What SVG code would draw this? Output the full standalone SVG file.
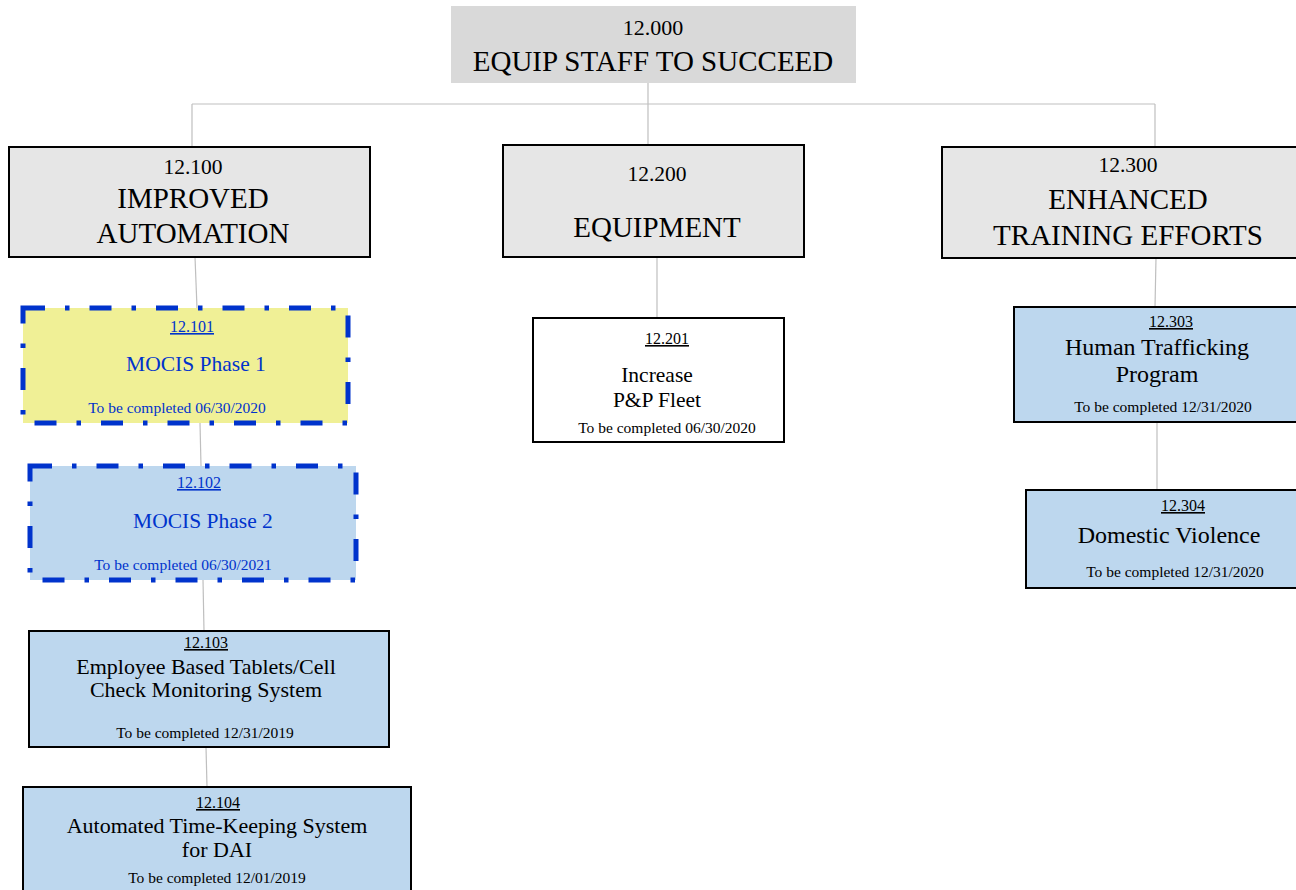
<svg xmlns="http://www.w3.org/2000/svg" width="1296" height="890" viewBox="0 0 1296 890">
<style>
text{font-family:"Liberation Serif","Times New Roman",serif;text-anchor:middle;fill:#000}
.top{fill:#d9d9d9}
.l1{fill:#e6e6e6;stroke:#000;stroke-width:2}
.blue{fill:#bdd7ee;stroke:#000;stroke-width:2}
.white{fill:#fff;stroke:#000;stroke-width:2}
.dash{stroke:#0033cc;stroke-width:5;stroke-dasharray:22 20 4.5 20}
.yel{fill:#f0f096}
.lb{fill:#bdd7ee}
.conn line{stroke:#bfbfbf;stroke-width:1.2}
.id{font-size:16px;text-decoration:underline}
.dt{font-size:15.5px}
.b{fill:#0033cc}
</style>
<g id="connectors" class="conn">
<line x1="648" y1="83" x2="648" y2="145"/>
<line x1="192" y1="104" x2="1155" y2="104"/>
<line x1="192" y1="104" x2="192" y2="147"/>
<line x1="1155" y1="104" x2="1155" y2="147"/>
<line x1="195" y1="257" x2="197" y2="308"/>
<line x1="200" y1="423" x2="201" y2="466"/>
<line x1="203" y1="580" x2="204" y2="631"/>
<line x1="206" y1="747" x2="207" y2="787"/>
<line x1="657" y1="257" x2="657" y2="318"/>
<line x1="1156" y1="258" x2="1155" y2="307"/>
<line x1="1157" y1="422" x2="1157" y2="490"/>
</g>
<g id="n12000">
<rect class="top" x="451" y="6" width="405" height="77"/>
<text x="653" y="35" font-size="22">12.000</text>
<text x="653" y="71" font-size="29">EQUIP STAFF TO SUCCEED</text>
</g>
<g id="n12100">
<rect class="l1" x="9" y="147" width="361" height="110"/>
<text x="193" y="174" font-size="21.5">12.100</text>
<text x="193" y="208" font-size="29">IMPROVED</text>
<text x="193" y="243" font-size="29">AUTOMATION</text>
</g>
<g id="n12200">
<rect class="l1" x="503" y="145" width="301" height="112"/>
<text x="657" y="181" font-size="21.5">12.200</text>
<text x="657" y="237" font-size="29">EQUIPMENT</text>
</g>
<g id="n12300">
<rect class="l1" x="942" y="147" width="360" height="111"/>
<text x="1128" y="172" font-size="21.5">12.300</text>
<text x="1128" y="209" font-size="29">ENHANCED</text>
<text x="1128" y="245" font-size="29">TRAINING EFFORTS</text>
</g>
<g id="n12101">
<rect class="yel" x="23" y="308" width="325" height="115"/>
<rect class="dash" x="23" y="308" width="325" height="115" fill="none"/>
<text class="id b" x="192" y="332">12.101</text>
<text class="b" x="196" y="371" font-size="21.5">MOCIS Phase 1</text>
<text class="dt b" x="177" y="413">To be completed 06/30/2020</text>
</g>
<g id="n12102">
<rect class="lb" x="30" y="466" width="326" height="114"/>
<rect class="dash" x="30" y="466" width="326" height="114" fill="none"/>
<text class="id b" x="199" y="488">12.102</text>
<text class="b" x="203" y="528" font-size="21.5">MOCIS Phase 2</text>
<text class="dt b" x="183" y="570">To be completed 06/30/2021</text>
</g>
<g id="n12103">
<rect class="blue" x="29" y="631" width="360" height="116"/>
<text class="id" x="206" y="648">12.103</text>
<text x="206" y="674" font-size="22">Employee Based Tablets/Cell</text>
<text x="206" y="697" font-size="22">Check Monitoring System</text>
<text class="dt" x="205" y="738">To be completed 12/31/2019</text>
</g>
<g id="n12104">
<rect class="blue" x="23" y="787" width="388" height="115"/>
<text class="id" x="218" y="808">12.104</text>
<text x="217" y="833" font-size="22">Automated Time-Keeping System</text>
<text x="217" y="857" font-size="22">for DAI</text>
<text class="dt" x="217" y="883">To be completed 12/01/2019</text>
</g>
<g id="n12201">
<rect class="white" x="533" y="318" width="251" height="124"/>
<text class="id" x="667" y="344">12.201</text>
<text x="657" y="382" font-size="21.5">Increase</text>
<text x="657" y="407" font-size="21.5">P&amp;P Fleet</text>
<text class="dt" x="667" y="433">To be completed 06/30/2020</text>
</g>
<g id="n12303">
<rect class="blue" x="1014" y="307" width="290" height="115"/>
<text class="id" x="1171" y="327">12.303</text>
<text x="1157" y="355" font-size="24">Human Trafficking</text>
<text x="1157" y="382" font-size="24">Program</text>
<text class="dt" x="1163" y="412">To be completed 12/31/2020</text>
</g>
<g id="n12304">
<rect class="blue" x="1026" y="490" width="278" height="98"/>
<text class="id" x="1183" y="511">12.304</text>
<text x="1169" y="543" font-size="24">Domestic Violence</text>
<text class="dt" x="1175" y="577">To be completed 12/31/2020</text>
</g>
</svg>
